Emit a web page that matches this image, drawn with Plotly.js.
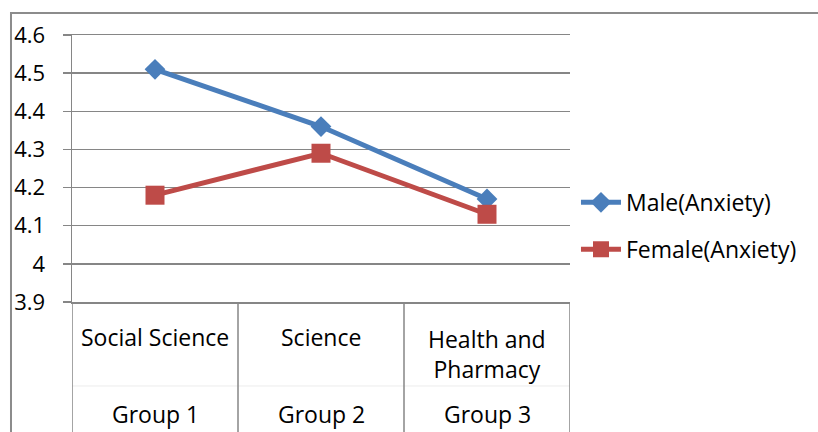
<!DOCTYPE html>
<html>
<head>
<meta charset="utf-8">
<script src="https://cdn.plot.ly/plotly-3.0.1.min.js"></script>
<style>
html,body{margin:0;padding:0;background:#fff;}
#chart{width:818px;height:432px;}
</style>
</head>
<body>
<div id="chart"></div>
<script>
const categories = ["Social Science", "Science", "Health and Pharmacy"];
const subLabels = ["Social Science", "Science", "Health and<br>Pharmacy"];
const groupLabels = ["Group 1", "Group 2", "Group 3"];
const maleName = "Male(Anxiety)";
const femaleName = "Female(Anxiety)";
const maleValues = [4.51, 4.36, 4.17];
const femaleValues = [4.18, 4.29, 4.13];
const yTicks = [3.9, 4, 4.1, 4.2, 4.3, 4.4, 4.5, 4.6];

const FONT = "'Open Sans', Lato, sans-serif";
const FS = 23;
const GRID = "#868686";

const traces = [
  {
    x: categories, y: maleValues, name: maleName, type: "scatter", mode: "lines+markers",
    line: {color: "#4a7ebb", width: 5},
    marker: {symbol: "diamond", size: 16, color: "#4a7ebb"},
    legendgroup: "m"
  },
  {
    x: categories, y: femaleValues, name: femaleName, type: "scatter", mode: "lines+markers",
    line: {color: "#be4b48", width: 5},
    marker: {symbol: "square", size: 19, color: "#be4b48"},
    legendgroup: "f"
  }
];

const annotations = [];
categories.forEach((c, i) => {
  annotations.push({x: c, xref: "x", y: i === 2 ? -0.193 : -0.131, yref: "paper",
    text: subLabels[i], showarrow: false, xanchor: "center", yanchor: "middle",
    font: {family: FONT, size: FS, color: "#000"}});
  annotations.push({x: c, xref: "x", y: -0.42, yref: "paper",
    text: groupLabels[i], showarrow: false, xanchor: "center", yanchor: "middle",
    font: {family: FONT, size: FS, color: "#000"}});
});

const shapes = [
  {type: "rect", xref: "paper", yref: "paper", x0: -0.1225, x1: 1.51, y0: -0.52, y1: 1.0824,
   line: {color: "#8c8c8c", width: 2}, fillcolor: "rgba(0,0,0,0)", layer: "below"},
  {type: "line", xref: "paper", yref: "paper", x0: 0, x1: 1, y0: -0.3146, y1: -0.3146,
   line: {color: "#ececec", width: 1}}
];
[-0.5, 0.5, 1.5, 2.5].forEach(v => {
  shapes.push({type: "line", xref: "x", yref: "paper", x0: v, x1: v, y0: 0, y1: -0.52,
    line: {color: GRID, width: 1.5}});
});

const layout = {
  width: 818, height: 432,
  margin: {l: 72, r: 248, t: 35, b: 130},
  paper_bgcolor: "#fff", plot_bgcolor: "#fff",
  font: {family: FONT, size: FS, color: "#000"},
  showlegend: true,
  legend: {x: 1.012, xanchor: "left", y: 0.285, yanchor: "middle",
    font: {family: FONT, size: FS, color: "#000"},
    traceorder: "grouped", tracegroupgap: 14, itemwidth: 40, bgcolor: "rgba(0,0,0,0)"},
  xaxis: {type: "category", categoryorder: "array", categoryarray: categories,
    range: [-0.5, 2.5], showticklabels: false, showgrid: false, zeroline: false,
    showline: true, mirror: true, linecolor: GRID, linewidth: 1.5, ticks: ""},
  yaxis: {range: [3.9, 4.6], tickvals: yTicks, ticktext: yTicks.map(String),
    showgrid: true, gridcolor: GRID, gridwidth: 1.5, zeroline: false,
    showline: true, linecolor: GRID, linewidth: 1.5,
    ticks: "outside", ticklen: 8, tickcolor: GRID, tickwidth: 1.5,
    ticklabelstandoff: 13, tickfont: {family: FONT, size: 22, color: "#000"}},
  shapes: shapes,
  annotations: annotations
};

Plotly.newPlot("chart", traces, layout, {displayModeBar: false, staticPlot: true});
</script>
</body>
</html>
